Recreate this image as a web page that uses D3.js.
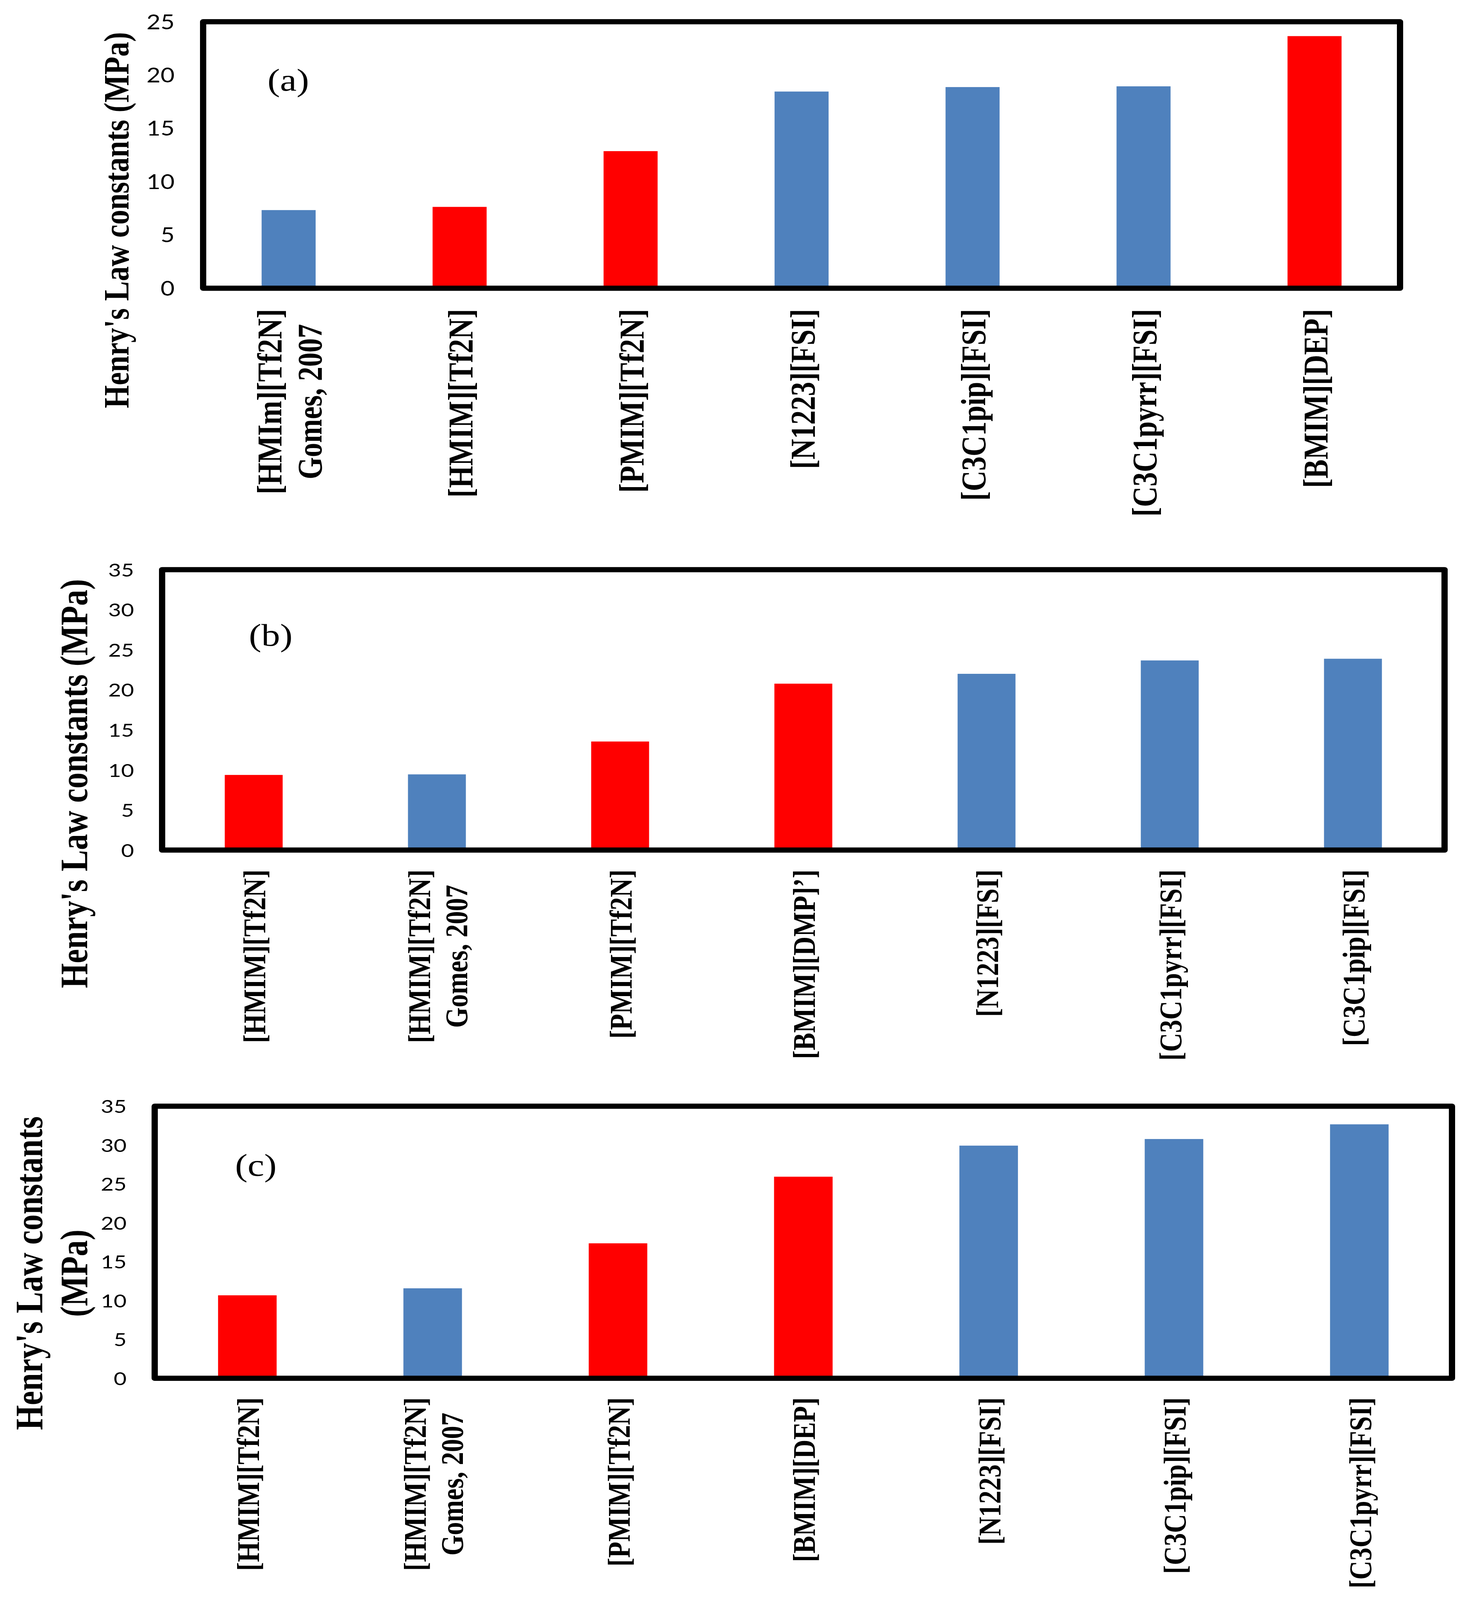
<!DOCTYPE html>
<html lang="en">
<head>
<meta charset="UTF-8">
<title>Henry's Law constants</title>
<script src="https://cdn.jsdelivr.net/npm/d3@7"></script>
<style>
  html, body { margin: 0; background: #fff; overflow: hidden; }
  svg { display: block; background: #fff; }
  .tick text { font-family: Lato, "Open Sans", sans-serif; fill: #000; }
  .serif { font-family: "Liberation Serif", "Times New Roman", serif; fill: #000; }
</style>
</head>
<body>
<svg id="chart"></svg>
<script>
// (a)
const catsA = ["[HMIm][Tf2N]\nGomes, 2007", "[HMIM][Tf2N]", "[PMIM][Tf2N]", "[N1223][FSI]",
               "[C3C1pip][FSI]", "[C3C1pyrr][FSI]", "[BMIM][DEP]"];
const valsA = [7.33, 7.63, 12.86, 18.45, 18.87, 18.94, 23.65];
const setA  = ["s1", "s2", "s2", "s1", "s1", "s1", "s2"];

// (b)
const catsB = ["[HMIM][Tf2N]", "[HMIM][Tf2N]\nGomes, 2007", "[PMIM][Tf2N]", "[BMIM][DMP]’]",
               "[N1223][FSI]", "[C3C1pyrr][FSI]", "[C3C1pip][FSI]"];
const valsB = [9.38, 9.45, 13.55, 20.77, 22.0, 23.67, 23.88];
const setB  = ["s2", "s1", "s2", "s2", "s1", "s1", "s1"];

// (c)
const catsC = ["[HMIM][Tf2N]", "[HMIM][Tf2N]\nGomes, 2007", "[PMIM][Tf2N]", "[BMIM][DEP]",
               "[N1223][FSI]", "[C3C1pip][FSI]", "[C3C1pyrr][FSI]"];
const valsC = [10.67, 11.57, 17.36, 25.93, 29.93, 30.78, 32.67];
const setC  = ["s2", "s1", "s2", "s2", "s1", "s1", "s1"];

const ticksA = [0, 5, 10, 15, 20, 25];
const ticksBC = [0, 5, 10, 15, 20, 25, 30, 35];

const color = d3.scaleOrdinal().domain(["s1", "s2"]).range(["#4F81BD", "#FF0000"]);

const panels = [
  { tag: "(a)", cats: catsA, vals: valsA, sets: setA, ticks: ticksA, max: 25,
    left: 520, right: 3584, y0: 889, yTop: 67,
    tickRight: 447, tickSize: 62, labelSize: 88, labelGap: 64,
    title: ["Henry's Law constants (MPa)"], titleSize: 91, titleX: [329], titleY: 679,
    tagX: 738, tagY: 280 },
  { tag: "(b)", cats: catsB, vals: valsB, sets: setB, ticks: ticksBC, max: 35,
    left: 415, right: 3698, y0: 2622, yTop: 1757,
    tickRight: 343, tickSize: 57, labelSize: 81, labelGap: 60,
    title: ["Henry's Law constants (MPa)"], titleSize: 99, titleX: [223], titleY: 2417,
    tagX: 693, tagY: 1992 },
  { tag: "(c)", cats: catsC, vals: valsC, sets: setC, ticks: ticksBC, max: 35,
    left: 396, right: 3717, y0: 4251, yTop: 3412,
    tickRight: 324, tickSize: 57, labelSize: 81, labelGap: 59,
    title: ["Henry's Law constants", "(MPa)"], titleSize: 99, titleX: [108, 223], titleY: 3927,
    tagX: 655, tagY: 3627 }
];

const W = 3758, H = 4935;
// the figure is laid out at 3758x4935; stretch it onto whatever the window really is
const vw = Math.min(W, window.innerWidth || W);
const vh = Math.min(H, window.innerHeight || H);
const svg = d3.select("#chart")
  .attr("viewBox", `0 0 ${W} ${H}`)
  .attr("preserveAspectRatio", "none")
  .attr("width", vw)
  .attr("height", vh);

panels.forEach(p => {
  const g = svg.append("g");

  const x = d3.scaleBand()
    .domain(d3.range(p.cats.length))
    .range([p.left, p.right])
    .paddingInner(0.684)
    .paddingOuter(0.342);

  const y = d3.scaleLinear().domain([0, p.max]).range([p.y0, p.yTop]);

  // bars
  g.append("g").selectAll("rect")
    .data(p.vals)
    .join("rect")
    .attr("x", (d, i) => x(i))
    .attr("width", x.bandwidth())
    .attr("y", d => y(d))
    .attr("height", d => y(0) - y(d))
    .attr("fill", (d, i) => color(p.sets[i]));

  // frame
  g.append("rect")
    .attr("x", p.left)
    .attr("y", y(p.max))
    .attr("width", p.right - p.left)
    .attr("height", y(0) - y(p.max))
    .attr("fill", "none")
    .attr("stroke", "#000")
    .attr("stroke-width", 16)
    .attr("stroke-linejoin", "round");

  // y axis labels
  const ax = g.append("g")
    .attr("transform", `translate(${p.tickRight},0)`)
    .call(d3.axisLeft(y).tickValues(p.ticks).tickSize(0).tickPadding(0));
  ax.select(".domain").remove();
  ax.selectAll("text")
    .attr("x", 0)
    .attr("dy", "0.36em")
    .style("font-size", p.tickSize + "px");

  // category labels, rotated
  const lh = p.labelSize * 1.17;
  g.append("g").selectAll("g")
    .data(p.cats)
    .join("g")
    .attr("transform", (d, i) => `translate(${x(i) + x.bandwidth() / 2},${y(0)}) rotate(-90)`)
    .each(function(d) {
      const lines = d.split("\n");
      const t = d3.select(this).append("text")
        .attr("class", "serif")
        .attr("text-anchor", "middle")
        .style("font-weight", "bold")
        .style("font-size", p.labelSize + "px");
      const spans = t.selectAll("tspan")
        .data(lines)
        .join("tspan")
        .attr("y", (l, k) => p.labelSize * 0.37 + (k - (lines.length - 1) / 2) * lh)
        .text(l => l);
      const L = d3.max(spans.nodes(), n => n.getComputedTextLength());
      spans.attr("x", -(p.labelGap + L / 2));
    });

  // y title
  p.title.forEach((line, k) => {
    g.append("text")
      .attr("class", "serif")
      .attr("transform", `translate(${p.titleX[k]},${p.titleY}) rotate(-90)`)
      .attr("text-anchor", "middle")
      .style("font-weight", "bold")
      .style("font-size", p.titleSize + "px")
      .text(line);
  });

  // panel tag
  g.append("text")
    .attr("class", "serif")
    .attr("x", p.tagX)
    .attr("y", p.tagY)
    .attr("text-anchor", "middle")
    .style("font-size", "96px")
    .text(p.tag);
});
</script>
</body>
</html>
